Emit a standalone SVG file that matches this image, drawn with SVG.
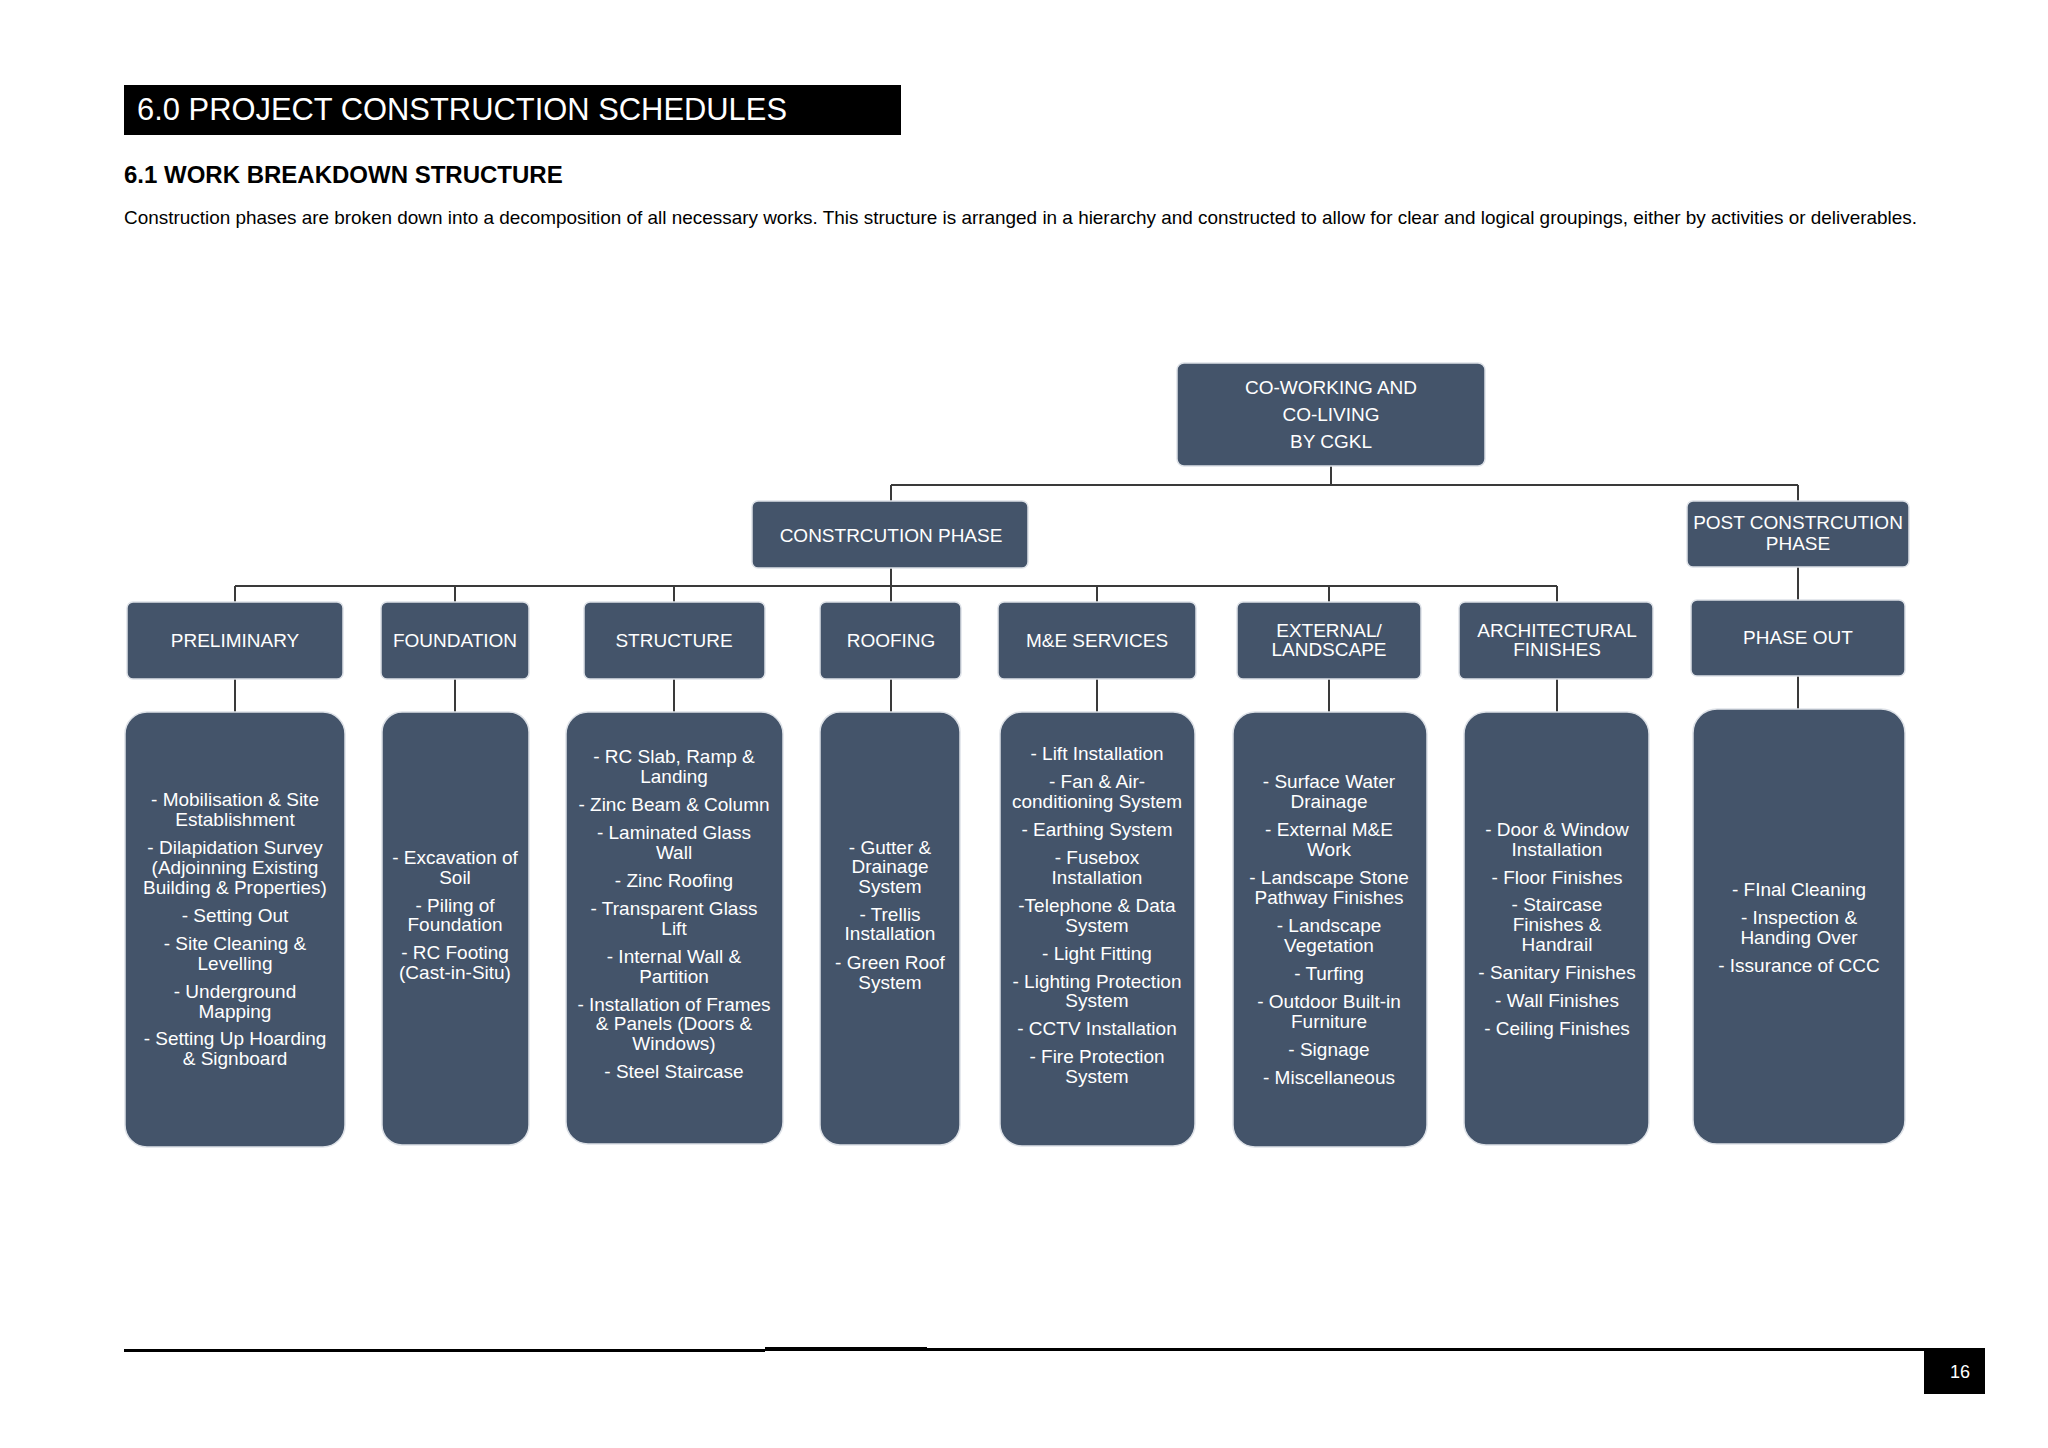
<svg xmlns="http://www.w3.org/2000/svg" width="2048" height="1448" viewBox="0 0 2048 1448">
<style>
  .box { fill: #44546A; stroke: #dde1e7; stroke-width: 1.5; }
  .t { fill: #ffffff; font-family: "Liberation Sans", Arial, sans-serif; font-size: 19px; text-anchor: middle; }
  .con { stroke: #3a3a3a; stroke-width: 2; fill: none; }
  .hdr { font-family: "Liberation Sans", Arial, sans-serif; }
</style>
<rect x="0" y="0" width="2048" height="1448" fill="#ffffff"/>

<g id="header">
  <rect x="124" y="85" width="777" height="50" fill="#000000"/>
  <text class="hdr" x="137" y="120" font-size="31" fill="#ffffff" textLength="650" lengthAdjust="spacingAndGlyphs">6.0 PROJECT CONSTRUCTION SCHEDULES</text>
  <text class="hdr" x="124" y="183" font-size="24" font-weight="bold" fill="#000000">6.1 WORK BREAKDOWN STRUCTURE</text>
  <text class="hdr" x="124" y="224" font-size="18.5" fill="#000000" textLength="1793" lengthAdjust="spacingAndGlyphs">Construction phases are broken down into a decomposition of all necessary works. This structure is arranged in a hierarchy and constructed to allow for clear and logical groupings, either by activities or deliverables.</text>
</g>

<g id="connectors">
  <path class="con" d="M1331 466 V485 M891 485 H1798 M891 485 V501 M1798 485 V501"/>
  <path class="con" d="M891 568 V586 M235 586 H1557 M235 586 V602 M455 586 V602 M674 586 V602 M891 586 V602 M1097 586 V602 M1329 586 V602 M1557 586 V602"/>
  <path class="con" d="M1798 567 V600"/>
  <path class="con" d="M235 679 V712 M455 679 V712 M674 679 V712 M891 679 V712 M1097 679 V712 M1329 679 V712 M1557 679 V712 M1798 676 V709"/>
</g>

<g id="root">
  <rect class="box" x="1177" y="363" width="308" height="103" rx="7"/>
  <text class="t" x="1331" y="394">CO-WORKING AND</text>
  <text class="t" x="1331" y="421">CO-LIVING</text>
  <text class="t" x="1331" y="448">BY CGKL</text>
</g>

<g id="construction-phase">
  <rect class="box" x="752" y="501" width="276" height="67" rx="6"/>
  <text class="t" x="891" y="542">CONSTRCUTION PHASE</text>
</g>

<g id="post-construction-phase">
  <rect class="box" x="1687" y="501" width="222" height="66" rx="6"/>
  <text class="t" x="1798" y="529">POST CONSTRCUTION</text>
  <text class="t" x="1798" y="550">PHASE</text>
</g>

<g id="preliminary">
  <rect class="box" x="127" y="602" width="216" height="77" rx="6"/>
  <text class="t" x="235" y="647">PRELIMINARY</text>
</g>
<g id="foundation">
  <rect class="box" x="381" y="602" width="148" height="77" rx="6"/>
  <text class="t" x="455" y="647">FOUNDATION</text>
</g>
<g id="structure">
  <rect class="box" x="584" y="602" width="181" height="77" rx="6"/>
  <text class="t" x="674" y="647">STRUCTURE</text>
</g>
<g id="roofing">
  <rect class="box" x="820" y="602" width="141" height="77" rx="6"/>
  <text class="t" x="891" y="647">ROOFING</text>
</g>
<g id="me-services">
  <rect class="box" x="998" y="602" width="198" height="77" rx="6"/>
  <text class="t" x="1097" y="647">M&amp;E SERVICES</text>
</g>
<g id="external-landscape">
  <rect class="box" x="1237" y="602" width="184" height="77" rx="6"/>
  <text class="t" x="1329" y="637">EXTERNAL/</text>
  <text class="t" x="1329" y="656">LANDSCAPE</text>
</g>
<g id="architectural-finishes">
  <rect class="box" x="1459" y="602" width="194" height="77" rx="6"/>
  <text class="t" x="1557" y="637">ARCHITECTURAL</text>
  <text class="t" x="1557" y="656">FINISHES</text>
</g>
<g id="phase-out">
  <rect class="box" x="1691" y="600" width="214" height="76" rx="6"/>
  <text class="t" x="1798" y="644">PHASE OUT</text>
</g>

<g id="preliminary-items">
  <rect class="box" x="125" y="712" width="220" height="435" rx="22"/>
  <text class="t" x="235" y="806">- Mobilisation &amp; Site</text>
  <text class="t" x="235" y="826">Establishment</text>
  <text class="t" x="235" y="854">- Dilapidation Survey</text>
  <text class="t" x="235" y="874">(Adjoinning Existing</text>
  <text class="t" x="235" y="894">Building &amp; Properties)</text>
  <text class="t" x="235" y="922">- Setting Out</text>
  <text class="t" x="235" y="950">- Site Cleaning &amp;</text>
  <text class="t" x="235" y="970">Levelling</text>
  <text class="t" x="235" y="998">- Underground</text>
  <text class="t" x="235" y="1018">Mapping</text>
  <text class="t" x="235" y="1045">- Setting Up Hoarding</text>
  <text class="t" x="235" y="1065">&amp; Signboard</text>
</g>

<g id="foundation-items">
  <rect class="box" x="382" y="712" width="147" height="433" rx="20"/>
  <text class="t" x="455" y="864">- Excavation of</text>
  <text class="t" x="455" y="884">Soil</text>
  <text class="t" x="455" y="912">- Piling of</text>
  <text class="t" x="455" y="931">Foundation</text>
  <text class="t" x="455" y="959">- RC Footing</text>
  <text class="t" x="455" y="979">(Cast-in-Situ)</text>
</g>

<g id="structure-items">
  <rect class="box" x="566" y="712" width="217" height="432" rx="22"/>
  <text class="t" x="674" y="763">- RC Slab, Ramp &amp;</text>
  <text class="t" x="674" y="783">Landing</text>
  <text class="t" x="674" y="811">- Zinc Beam &amp; Column</text>
  <text class="t" x="674" y="839">- Laminated Glass</text>
  <text class="t" x="674" y="859">Wall</text>
  <text class="t" x="674" y="887">- Zinc Roofing</text>
  <text class="t" x="674" y="915">- Transparent Glass</text>
  <text class="t" x="674" y="935">Lift</text>
  <text class="t" x="674" y="963">- Internal Wall &amp;</text>
  <text class="t" x="674" y="983">Partition</text>
  <text class="t" x="674" y="1011">- Installation of Frames</text>
  <text class="t" x="674" y="1030">&amp; Panels (Doors &amp;</text>
  <text class="t" x="674" y="1050">Windows)</text>
  <text class="t" x="674" y="1078">- Steel Staircase</text>
</g>

<g id="roofing-items">
  <rect class="box" x="820" y="712" width="140" height="433" rx="20"/>
  <text class="t" x="890" y="854">- Gutter &amp;</text>
  <text class="t" x="890" y="873">Drainage</text>
  <text class="t" x="890" y="893">System</text>
  <text class="t" x="890" y="921">- Trellis</text>
  <text class="t" x="890" y="940">Installation</text>
  <text class="t" x="890" y="969">- Green Roof</text>
  <text class="t" x="890" y="989">System</text>
</g>

<g id="me-services-items">
  <rect class="box" x="1000" y="712" width="195" height="434" rx="22"/>
  <text class="t" x="1097" y="760">- Lift Installation</text>
  <text class="t" x="1097" y="788">- Fan &amp; Air-</text>
  <text class="t" x="1097" y="808">conditioning System</text>
  <text class="t" x="1097" y="836">- Earthing System</text>
  <text class="t" x="1097" y="864">- Fusebox</text>
  <text class="t" x="1097" y="884">Installation</text>
  <text class="t" x="1097" y="912">-Telephone &amp; Data</text>
  <text class="t" x="1097" y="932">System</text>
  <text class="t" x="1097" y="960">- Light Fitting</text>
  <text class="t" x="1097" y="988">- Lighting Protection</text>
  <text class="t" x="1097" y="1007">System</text>
  <text class="t" x="1097" y="1035">- CCTV Installation</text>
  <text class="t" x="1097" y="1063">- Fire Protection</text>
  <text class="t" x="1097" y="1083">System</text>
</g>

<g id="external-landscape-items">
  <rect class="box" x="1233" y="712" width="194" height="435" rx="22"/>
  <text class="t" x="1329" y="788">- Surface Water</text>
  <text class="t" x="1329" y="808">Drainage</text>
  <text class="t" x="1329" y="836">- External M&amp;E</text>
  <text class="t" x="1329" y="856">Work</text>
  <text class="t" x="1329" y="884">- Landscape Stone</text>
  <text class="t" x="1329" y="904">Pathway Finishes</text>
  <text class="t" x="1329" y="932">- Landscape</text>
  <text class="t" x="1329" y="952">Vegetation</text>
  <text class="t" x="1329" y="980">- Turfing</text>
  <text class="t" x="1329" y="1008">- Outdoor Built-in</text>
  <text class="t" x="1329" y="1028">Furniture</text>
  <text class="t" x="1329" y="1056">- Signage</text>
  <text class="t" x="1329" y="1084">- Miscellaneous</text>
</g>

<g id="architectural-finishes-items">
  <rect class="box" x="1464" y="712" width="185" height="433" rx="22"/>
  <text class="t" x="1557" y="836">- Door &amp; Window</text>
  <text class="t" x="1557" y="856">Installation</text>
  <text class="t" x="1557" y="884">- Floor Finishes</text>
  <text class="t" x="1557" y="911">- Staircase</text>
  <text class="t" x="1557" y="931">Finishes &amp;</text>
  <text class="t" x="1557" y="951">Handrail</text>
  <text class="t" x="1557" y="979">- Sanitary Finishes</text>
  <text class="t" x="1557" y="1007">- Wall Finishes</text>
  <text class="t" x="1557" y="1035">- Ceiling Finishes</text>
</g>

<g id="phase-out-items">
  <rect class="box" x="1693" y="709" width="212" height="435" rx="24"/>
  <text class="t" x="1799" y="896">- FInal Cleaning</text>
  <text class="t" x="1799" y="924">- Inspection &amp;</text>
  <text class="t" x="1799" y="944">Handing Over</text>
  <text class="t" x="1799" y="972">- Issurance of CCC</text>
</g>

<g id="footer">
  <rect x="124" y="1349" width="641" height="3" fill="#000000"/>
  <rect x="765" y="1347" width="162" height="4" fill="#000000"/>
  <rect x="927" y="1348" width="1058" height="3" fill="#000000"/>
  <rect x="1924" y="1349" width="61" height="45" fill="#000000"/>
  <text class="hdr" x="1960" y="1378" font-size="18" fill="#ffffff" text-anchor="middle">16</text>
</g>
</svg>
